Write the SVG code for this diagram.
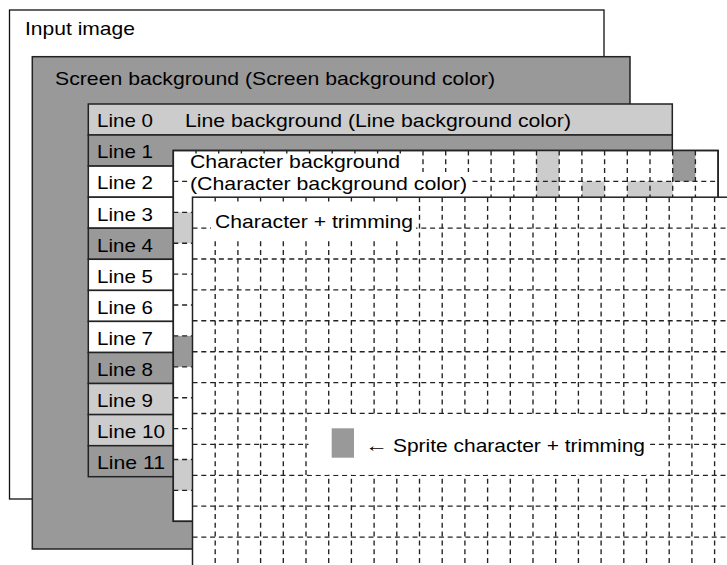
<svg xmlns="http://www.w3.org/2000/svg" xmlns:xlink="http://www.w3.org/1999/xlink" width="727" height="565" viewBox="0 0 727 565">
<style>
text { font-family: "Liberation Sans", Arial, "DejaVu Sans", sans-serif; font-size: 19px; fill: #000; }
.frame { stroke: #222; stroke-width: 1.5; }
.light { fill: #cccccc; }
.dark { fill: #999999; }
.white { fill: #ffffff; }
.grid { fill: none; stroke: #222; stroke-width: 1.35; stroke-dasharray: 5 3.8; }
.cover { fill: #ffffff; stroke: none; }
</style>
<defs>
<g id="grid">
<path class="grid" d="M22.7,0V370.8M45.4,0V370.8M68.1,0V370.8M90.8,0V370.8M113.5,0V370.8M136.2,0V370.8M158.9,0V370.8M181.6,0V370.8M204.3,0V370.8M227,0V370.8M249.7,0V370.8M272.4,0V370.8M295.1,0V370.8M317.8,0V370.8M340.5,0V370.8M363.2,0V370.8M385.9,0V370.8M408.6,0V370.8M431.3,0V370.8M454,0V370.8M476.7,0V370.8M499.4,0V370.8M522.1,0V370.8"/>
<path class="grid" d="M0,30.9H544.8M0,61.8H544.8M0,92.7H544.8M0,123.6H544.8M0,154.5H544.8M0,185.4H544.8M0,216.3H544.8M0,247.2H544.8M0,278.1H544.8M0,309H544.8M0,339.9H544.8"/>
</g>
</defs>

<g id="input-image">
<rect x="9.5" y="10" width="594.5" height="489" fill="#fff" stroke="#111" stroke-width="1.3"/>
<text x="25" y="34.5" textLength="110" lengthAdjust="spacingAndGlyphs">Input image</text>
</g>

<g id="screen-background">
<rect class="dark frame" x="32.3" y="56.7" width="597.7" height="492.3"/>
<text x="55" y="85" textLength="440" lengthAdjust="spacingAndGlyphs">Screen background (Screen background color)</text>
</g>

<g id="line-table">
<rect class="light frame" x="88.3" y="104" width="584" height="31"/>
<rect class="dark frame" x="88.3" y="135" width="584" height="31.1"/>
<rect class="white frame" x="88.3" y="166.1" width="584" height="31.1"/>
<rect class="white frame" x="88.3" y="197.2" width="584" height="31"/>
<rect class="dark frame" x="88.3" y="228.2" width="584" height="31.1"/>
<rect class="white frame" x="88.3" y="259.3" width="584" height="31.1"/>
<rect class="white frame" x="88.3" y="290.4" width="584" height="31"/>
<rect class="white frame" x="88.3" y="321.4" width="584" height="31.1"/>
<rect class="dark frame" x="88.3" y="352.5" width="584" height="31"/>
<rect class="light frame" x="88.3" y="383.5" width="584" height="31.1"/>
<rect class="light frame" x="88.3" y="414.6" width="584" height="31.1"/>
<rect class="dark frame" x="88.3" y="445.7" width="584" height="31"/>
<text x="97" y="127.3" textLength="56" lengthAdjust="spacingAndGlyphs">Line 0</text>
<text x="185" y="127.3" textLength="386" lengthAdjust="spacingAndGlyphs">Line background (Line background color)</text>
<text x="97" y="158.4" textLength="56" lengthAdjust="spacingAndGlyphs">Line 1</text>
<text x="97" y="189.4" textLength="56" lengthAdjust="spacingAndGlyphs">Line 2</text>
<text x="97" y="220.5" textLength="56" lengthAdjust="spacingAndGlyphs">Line 3</text>
<text x="97" y="251.5" textLength="56" lengthAdjust="spacingAndGlyphs">Line 4</text>
<text x="97" y="282.6" textLength="56" lengthAdjust="spacingAndGlyphs">Line 5</text>
<text x="97" y="313.7" textLength="56" lengthAdjust="spacingAndGlyphs">Line 6</text>
<text x="97" y="344.7" textLength="56" lengthAdjust="spacingAndGlyphs">Line 7</text>
<text x="97" y="375.8" textLength="56" lengthAdjust="spacingAndGlyphs">Line 8</text>
<text x="97" y="406.8" textLength="56" lengthAdjust="spacingAndGlyphs">Line 9</text>
<text x="97" y="437.9" textLength="68" lengthAdjust="spacingAndGlyphs">Line 10</text>
<text x="97" y="468.9" textLength="68" lengthAdjust="spacingAndGlyphs">Line 11</text>
</g>

<g id="character-background">
<rect class="white frame" x="173.3" y="150.5" width="544.8" height="370.8"/>
<rect class="light" x="536.5" y="150.5" width="22.7" height="61.8"/>
<rect class="dark" x="672.7" y="150.5" width="22.7" height="30.9"/>
<rect class="light" x="581.9" y="181.4" width="22.7" height="30.9"/>
<rect class="light" x="627.3" y="181.4" width="45.4" height="30.9"/>
<rect class="light" x="173.3" y="212.3" width="22.7" height="30.9"/>
<rect class="dark" x="173.3" y="335.9" width="22.7" height="30.9"/>
<rect class="light" x="173.3" y="459.5" width="22.7" height="30.9"/>
<use xlink:href="#grid" x="173.3" y="150.5"/>
<rect class="cover" x="189" y="153.5" width="223" height="27"/>
<rect class="cover" x="189" y="172" width="282" height="26"/>
<rect fill="none" class="frame" x="173.3" y="150.5" width="544.8" height="370.8"/>
<text x="190" y="168.3" textLength="210" lengthAdjust="spacingAndGlyphs">Character background</text>
<text x="190" y="190" textLength="277" lengthAdjust="spacingAndGlyphs">(Character background color)</text>
</g>

<g id="character-trimming">
<rect class="white frame" x="192.5" y="197.2" width="544.8" height="370.8"/>
<use xlink:href="#grid" x="192.5" y="197.2"/>
<rect class="cover" x="211" y="201.5" width="205" height="37"/>
<text x="215" y="228.3" textLength="198" lengthAdjust="spacingAndGlyphs">Character + trimming</text>
</g>

<g id="sprite">
<rect class="cover" x="308.5" y="414" width="341" height="60.8"/>
<rect class="dark" x="331.7" y="428.3" width="22.3" height="29.4"/>
<text x="365" y="451.7"><tspan textLength="23" lengthAdjust="spacingAndGlyphs">←</tspan><tspan x="393" textLength="252" lengthAdjust="spacingAndGlyphs">Sprite character + trimming</tspan></text>
</g>
</svg>
